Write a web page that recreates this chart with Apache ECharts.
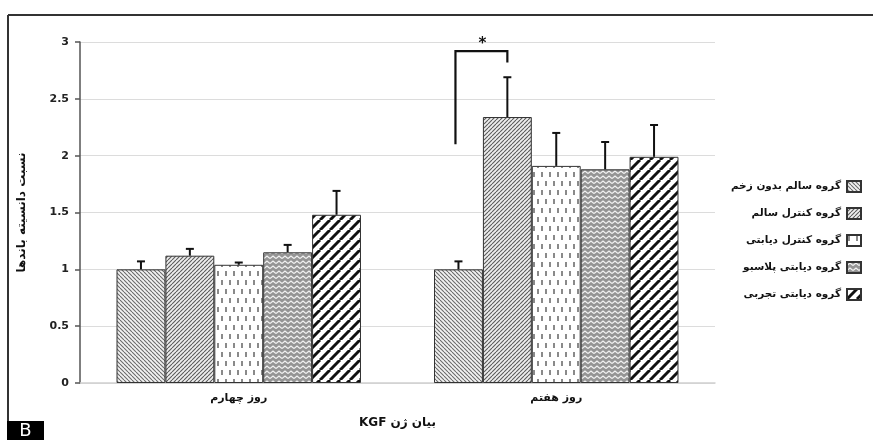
<!DOCTYPE html>
<html>
<head>
<meta charset="utf-8">
<script src="https://cdn.jsdelivr.net/npm/echarts@6/dist/echarts.min.js"></script>
<style>
html,body{margin:0;padding:0;background:#fff;}
#chart{width:873px;height:440px;}
</style>
</head>
<body>
<div id="chart"></div>
<script>
// ---- data ----
const categories = ['روز چهارم', 'روز هفتم'];
const groupNames = ['گروه سالم بدون زخم', 'گروه کنترل سالم', 'گروه کنترل دیابتی', 'گروه دیابتی پلاسبو', 'گروه دیابتی تجربی'];
const healthyNoWound = [1.00, 1.00];
const healthyControl = [1.12, 2.34];
const diabeticControl = [1.04, 1.91];
const diabeticPlacebo = [1.15, 1.88];
const diabeticTreated = [1.48, 1.99];
const errHealthyNoWound = [0.07, 0.07];
const errHealthyControl = [0.06, 0.35];
const errDiabeticControl = [0.02, 0.29];
const errDiabeticPlacebo = [0.065, 0.24];
const errDiabeticTreated = [0.21, 0.28];
const yTicks = [0, 0.5, 1, 1.5, 2, 2.5, 3];
const yAxisTitle = 'نسبت دانسیته باندها';
const xAxisTitle = '\u202Bبیان ژن KGF\u202C';
// significance bracket (day 7, group 1 vs group 2)
const sigCategory = 1;
const sigLeftLow = 2.10;
const sigTop = 2.92;
const sigRightLow = 2.82;
const sigStarY = 3.0;
const sigLabel = '*';

const values = [healthyNoWound, healthyControl, diabeticControl, diabeticPlacebo, diabeticTreated];
const errors = [errHealthyNoWound, errHealthyControl, errDiabeticControl, errDiabeticPlacebo, errDiabeticTreated];

// ---- patterns ----
function mk(w, h, draw) {
  const c = document.createElement('canvas');
  c.width = w; c.height = h;
  const g = c.getContext('2d');
  draw(g, w, h);
  return c;
}
const pat1 = mk(4, 4, (g, w, h) => {
  g.fillStyle = '#f2f2f2'; g.fillRect(0, 0, w, h);
  g.strokeStyle = '#6a6a6a'; g.lineWidth = 1.1;
  for (let k = -1; k <= 1; k++) { g.beginPath(); g.moveTo(k * w, 0); g.lineTo(k * w + w, h); g.stroke(); }
});
const pat2 = mk(4, 4, (g, w, h) => {
  g.fillStyle = '#eeeeee'; g.fillRect(0, 0, w, h);
  g.strokeStyle = '#5a5a5a'; g.lineWidth = 1.1;
  for (let k = -1; k <= 1; k++) { g.beginPath(); g.moveTo(k * w, h); g.lineTo(k * w + w, 0); g.stroke(); }
});
const pat3 = mk(8, 18, (g, w, h) => {
  g.fillStyle = '#ffffff'; g.fillRect(0, 0, w, h);
  g.fillStyle = '#8a8a8a';
  g.fillRect(1, 1, 2, 5);
  g.fillRect(5, 10, 2, 5);
});
const pat4 = mk(6, 5, (g, w, h) => {
  g.fillStyle = '#959595'; g.fillRect(0, 0, w, h);
  g.strokeStyle = '#f2f2f2'; g.lineWidth = 1.3;
  g.beginPath(); g.moveTo(0, 3.5); g.lineTo(3, 1); g.lineTo(6, 3.5); g.stroke();
});
const pat5 = mk(10, 10, (g, w, h) => {
  g.fillStyle = '#ffffff'; g.fillRect(0, 0, w, h);
  g.strokeStyle = '#111111'; g.lineWidth = 3;
  for (let k = -1; k <= 1; k++) { g.beginPath(); g.moveTo(k * w, h); g.lineTo(k * w + w, 0); g.stroke(); }
});
const patterns = [pat1, pat2, pat3, pat4, pat5];

const CAT_GAP = 0.23;
const chart = echarts.init(document.getElementById('chart'), null, { renderer: 'canvas' });

const barSeries = groupNames.map((name, i) => ({
  name: name,
  type: 'bar',
  data: values[i],
  barGap: '0%',
  barCategoryGap: (CAT_GAP * 100) + '%',
  itemStyle: {
    color: { image: patterns[i], repeat: 'repeat' },
    borderColor: '#333',
    borderWidth: 1
  },
  emphasis: { disabled: true },
  z: 2
}));

const errData = [];
for (let s = 0; s < 5; s++) {
  for (let c = 0; c < categories.length; c++) {
    errData.push([c, values[s][c], values[s][c] + errors[s][c], s]);
  }
}

const errSeries = {
  type: 'custom',
  name: 'err',
  data: errData,
  encode: { x: 0, y: 1 },
  z: 5,
  renderItem: function (params, api) {
    const cat = api.value(0), v = api.value(1), top = api.value(2), s = api.value(3);
    const p = api.coord([cat, v]);
    const t = api.coord([cat, top]);
    const band = api.size([1, 0])[0];
    const bw = band * (1 - CAT_GAP) / 5;
    const x = p[0] + (s - 2) * bw;
    return {
      type: 'group',
      children: [
        { type: 'line', shape: { x1: x, y1: p[1], x2: x, y2: t[1] }, style: { stroke: '#111', lineWidth: 2 } },
        { type: 'line', shape: { x1: x - 4, y1: t[1], x2: x + 4, y2: t[1] }, style: { stroke: '#111', lineWidth: 2 } }
      ]
    };
  }
};

const sigSeries = {
  type: 'custom',
  name: 'sig',
  data: [[sigCategory, sigLeftLow, sigTop, sigRightLow, sigStarY]],
  encode: { x: 0, y: 2 },
  z: 6,
  clip: false,
  renderItem: function (params, api) {
    const cat = api.value(0);
    const band = api.size([1, 0])[0];
    const bw = band * (1 - CAT_GAP) / 5;
    const c = api.coord([cat, api.value(1)]);
    const xL = c[0] - 2 * bw - 3;
    const xR = c[0] - bw;
    const yLow = c[1];
    const yTop = api.coord([cat, api.value(2)])[1];
    const yRLow = api.coord([cat, api.value(3)])[1];
    const yStar = api.coord([cat, api.value(4)])[1];
    return {
      type: 'group',
      children: [
        { type: 'polyline', shape: { points: [[xL, yLow], [xL, yTop], [xR, yTop], [xR, yRLow]] }, style: { stroke: '#111', lineWidth: 2.2, fill: null } },
        { type: 'text', style: { text: sigLabel, x: (xL + xR) / 2 + 1, y: yStar + 2, align: 'center', verticalAlign: 'middle', font: 'bold 15px "DejaVu Sans"', fill: '#111' } }
      ]
    };
  }
};

chart.setOption({
  animation: false,
  backgroundColor: '#fff',
  grid: { left: 80, right: 158, top: 42, bottom: 57, containLabel: false },
  legend: {
    data: groupNames,
    orient: 'vertical',
    right: 11,
    top: 180,
    padding: 0,
    align: 'right',
    icon: 'rect',
    itemWidth: 14,
    itemHeight: 11,
    itemGap: 14,
    textStyle: { fontFamily: 'DejaVu Sans', fontWeight: 'bold', fontSize: 10.5, color: '#111', padding: [0, 1, 0, 0] },
    selectedMode: false
  },
  xAxis: {
    type: 'category',
    data: categories,
    axisLine: { lineStyle: { color: '#cfcfcf', width: 1.5 } },
    axisTick: { show: false },
    axisLabel: { fontFamily: 'DejaVu Sans', fontWeight: 'bold', fontSize: 11, color: '#111', margin: 10 },
    name: xAxisTitle,
    nameLocation: 'middle',
    nameGap: 34,
    nameTextStyle: { fontFamily: 'DejaVu Sans', fontWeight: 'bold', fontSize: 12, color: '#111' }
  },
  yAxis: {
    type: 'value',
    min: yTicks[0],
    max: yTicks[yTicks.length - 1],
    interval: yTicks[1] - yTicks[0],
    axisLine: { show: true, lineStyle: { color: '#555', width: 1.5 } },
    axisTick: { show: true, length: 5, lineStyle: { color: '#555', width: 1.5 } },
    splitLine: { lineStyle: { color: '#dcdcdc', width: 1.2 } },
    axisLabel: { fontFamily: 'DejaVu Sans', fontWeight: 'bold', fontSize: 11, color: '#222', margin: 11 },
    name: yAxisTitle,
    nameLocation: 'middle',
    nameGap: 52,
    nameTextStyle: { fontFamily: 'DejaVu Sans', fontWeight: 'bold', fontSize: 12, color: '#111' }
  },
  graphic: [
    { type: 'line', shape: { x1: 8, y1: 15, x2: 873, y2: 15 }, style: { stroke: '#333', lineWidth: 2 } },
    { type: 'line', shape: { x1: 8, y1: 15, x2: 8, y2: 422 }, style: { stroke: '#333', lineWidth: 2 } },
    { type: 'rect', shape: { x: 7, y: 421, width: 37, height: 19 }, style: { fill: '#000' } },
    { type: 'text', style: { text: 'B', x: 25.5, y: 431, align: 'center', verticalAlign: 'middle', font: '18px "DejaVu Sans"', fill: '#fff' } }
  ],
  series: barSeries.concat([errSeries, sigSeries])
});
</script>
</body>
</html>
